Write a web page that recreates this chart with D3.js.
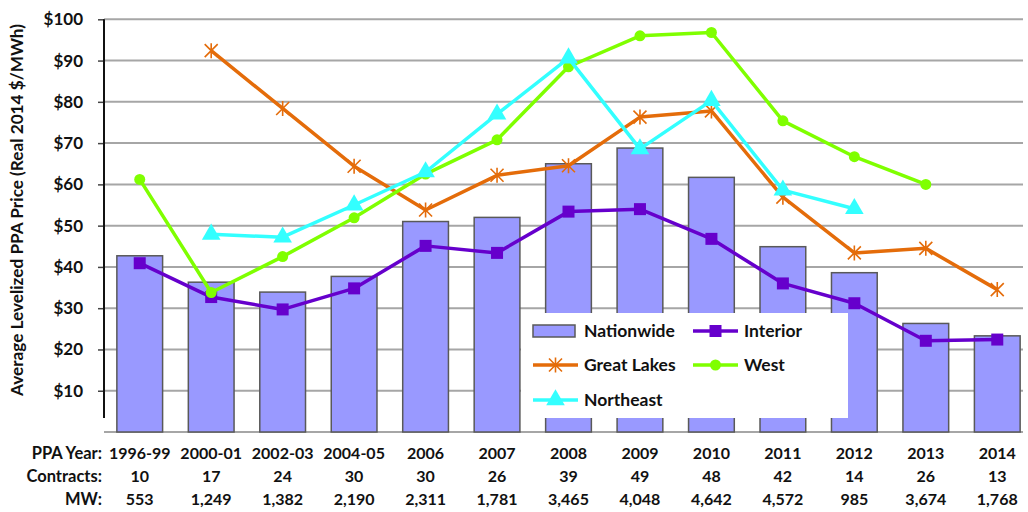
<!DOCTYPE html>
<html>
<head>
<meta charset="utf-8">
<script src="https://cdn.jsdelivr.net/npm/d3@7"></script>
<style>
  html, body { margin: 0; padding: 0; background: #fff; }
  svg { display: block; font-family: Lato, "Open Sans", sans-serif; font-weight: bold; }
</style>
</head>
<body>
<svg id="chart" width="1028" height="512"></svg>
<script>
// PPA price data by contract year (real 2014 $/MWh)
const years = ["1996-99", "2000-01", "2002-03", "2004-05", "2006", "2007", "2008", "2009", "2010", "2011", "2012", "2013", "2014"];
const contracts = ["10", "17", "24", "30", "30", "26", "39", "49", "48", "42", "14", "26", "13"];
const mw = ["553", "1,249", "1,382", "2,190", "2,311", "1,781", "3,465", "4,048", "4,642", "4,572", "985", "3,674", "1,768"];

const nationwide = [42.7, 36.3, 33.9, 37.7, 51.0, 52.0, 65.0, 68.8, 61.7, 44.9, 38.6, 26.3, 23.3];
const interior   = [40.9, 32.7, 29.7, 34.8, 45.1, 43.4, 53.4, 54.0, 46.8, 36.0, 31.2, 22.1, 22.4];
const greatLakes = [null, 92.4, 78.4, 64.4, 53.8, 62.2, 64.5, 76.3, 77.8, 56.9, 43.4, 44.5, 34.5];
const west       = [61.2, 33.8, 42.5, 51.9, 62.5, 70.8, 88.5, 96.0, 96.8, 75.4, 66.7, 60.0, null];
const northeast  = [null, 47.9, 47.2, 55.0, 63.0, 77.0, 90.6, 68.6, 80.3, 58.6, 54.1, null, null];

const yTicks = [10, 20, 30, 40, 50, 60, 70, 80, 90, 100];

const svg = d3.select("#chart");
const plotLeft = 104, plotRight = 1033, plotTop = 19.3, plotBottom = 432, gridEnd = 1023;

const x = d3.scaleBand().domain(years).range([plotLeft, plotRight]).paddingInner(0.36).paddingOuter(0.18);
const y = d3.scaleLinear().domain([0, 100]).range([plotBottom, plotTop]);
const cx = d => x(d) + x.bandwidth() / 2;

// horizontal gridlines
svg.append("g").selectAll("line").data(yTicks).join("line")
  .attr("x1", plotLeft).attr("x2", gridEnd)
  .attr("y1", d => y(d)).attr("y2", d => y(d))
  .attr("stroke", "#a6a6a6").attr("stroke-width", 2);

// baseline
svg.append("line").attr("x1", plotLeft).attr("x2", gridEnd)
  .attr("y1", y(0)).attr("y2", y(0)).attr("stroke", "#a6a6a6").attr("stroke-width", 2);

// y axis
const yAxis = d3.axisLeft(y).tickValues(yTicks).tickSize(6).tickPadding(6).tickFormat(d => "$" + d);
const ga = svg.append("g").attr("transform", `translate(${plotLeft},0)`).call(yAxis);
ga.select(".domain").remove();
ga.selectAll(".tick line").attr("stroke", "#444").attr("stroke-width", 1.5);
ga.selectAll(".tick text").attr("font-size", 17).attr("font-family", "Lato, sans-serif")
  .attr("font-weight", "bold").attr("fill", "#111").attr("x", -21);
svg.append("line").attr("x1", plotLeft).attr("x2", plotLeft).attr("y1", plotTop).attr("y2", 418)
  .attr("stroke", "#111").attr("stroke-width", 2);

// y title
svg.append("text")
  .attr("transform", `translate(23,${(10 + 410) / 2}) rotate(-90)`)
  .attr("text-anchor", "middle").attr("font-size", 17.2).attr("fill", "#111")
  .text("Average Levelized PPA Price (Real 2014 $/MWh)");

// nationwide bars
svg.append("g").selectAll("rect").data(nationwide).join("rect")
  .attr("x", (d, i) => x(years[i])).attr("width", x.bandwidth())
  .attr("y", d => y(d)).attr("height", d => y(0) - y(d))
  .attr("fill", "#9999ff").attr("stroke", "#595959").attr("stroke-width", 1.5);

// regional series
const series = [
  { name: "Interior", values: interior, color: "#6600cc", marker: "square" },
  { name: "Great Lakes", values: greatLakes, color: "#e46c0a", marker: "star" },
  { name: "West", values: west, color: "#7fff00", marker: "circle" },
  { name: "Northeast", values: northeast, color: "#33ffff", marker: "triangle" }
];

function drawMarker(g, kind, px, py, color) {
  if (kind === "square") {
    g.append("rect").attr("x", px - 6).attr("y", py - 6).attr("width", 12).attr("height", 12).attr("fill", color);
  } else if (kind === "circle") {
    g.append("circle").attr("cx", px).attr("cy", py).attr("r", 5.5).attr("fill", color);
  } else if (kind === "triangle") {
    g.append("path").attr("d", d3.symbol(d3.symbolTriangle, 150)()).attr("transform", `translate(${px},${py})`).attr("fill", color);
  } else if (kind === "star") {
    const s = 6.5;
    g.append("path")
      .attr("d", `M${px - s},${py - s}L${px + s},${py + s}M${px - s},${py + s}L${px + s},${py - s}M${px},${py - s - 1}L${px},${py + s + 1}`)
      .attr("stroke", color).attr("stroke-width", 1.6).attr("fill", "none");
  }
}

const line = d3.line().defined(d => d.v != null).x(d => cx(d.k)).y(d => y(d.v));
series.forEach(s => {
  const pts = years.map((k, i) => ({ k, v: s.values[i] }));
  const g = svg.append("g");
  g.append("path").datum(pts).attr("d", line).attr("fill", "none")
    .attr("stroke", s.color).attr("stroke-width", 3.5).attr("stroke-linejoin", "round");
  pts.filter(p => p.v != null).forEach(p => drawMarker(g, s.marker, cx(p.k), y(p.v), s.color));
});

// legend
const lg = svg.append("g");
lg.append("rect").attr("x", 521).attr("y", 313).attr("width", 327).attr("height", 105).attr("fill", "#fff");
const legendItems = [
  { name: "Nationwide", kind: "bar", x: 533, y: 331 },
  { name: "Interior", s: series[0], x: 693, y: 331 },
  { name: "Great Lakes", s: series[1], x: 533, y: 365 },
  { name: "West", s: series[2], x: 693, y: 365 },
  { name: "Northeast", s: series[3], x: 533, y: 400 }
];
legendItems.forEach(it => {
  if (it.kind === "bar") {
    lg.append("rect").attr("x", it.x).attr("y", it.y - 6).attr("width", 42).attr("height", 12)
      .attr("fill", "#9999ff").attr("stroke", "#595959").attr("stroke-width", 1.5);
  } else {
    lg.append("line").attr("x1", it.x).attr("x2", it.x + 45).attr("y1", it.y).attr("y2", it.y)
      .attr("stroke", it.s.color).attr("stroke-width", 3.5);
    drawMarker(lg, it.s.marker, it.x + 22.5, it.y, it.s.color);
  }
  lg.append("text").attr("x", it.x + 51).attr("y", it.y + 6).attr("font-size", 17.5).attr("fill", "#111").text(it.name);
});

// category table beneath the axis
const rows = [
  { label: "PPA Year:", vals: years, y: 459 },
  { label: "Contracts:", vals: contracts, y: 482 },
  { label: "MW:", vals: mw, y: 505 }
];
rows.forEach(r => {
  svg.append("text").attr("x", 102).attr("y", r.y).attr("text-anchor", "end")
    .attr("font-size", 16.5).attr("fill", "#111").text(r.label);
  svg.append("g").selectAll("text").data(r.vals).join("text")
    .attr("x", (d, i) => cx(years[i])).attr("y", r.y).attr("text-anchor", "middle")
    .attr("font-size", 16).attr("fill", "#111").text(d => d);
});
</script>
</body>
</html>
